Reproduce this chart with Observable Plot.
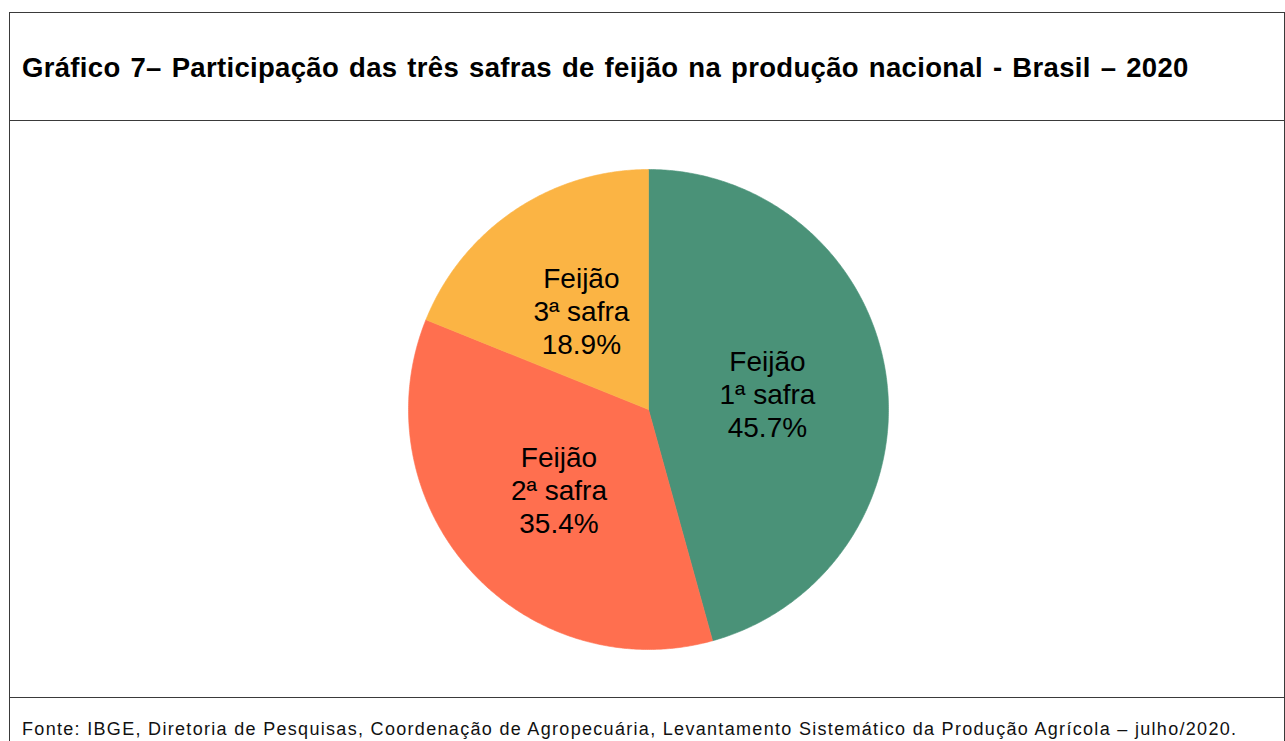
<!DOCTYPE html>
<html>
<head>
<meta charset="utf-8">
<script src="https://cdn.jsdelivr.net/npm/d3@7"></script>
<script src="https://cdn.jsdelivr.net/npm/@observablehq/plot@0.6"></script>
<style>
  html, body { margin: 0; padding: 0; background: #fff; overflow: hidden; }
  body { width: 1285px; height: 741px; position: relative; font-family: "Liberation Sans", Arial, sans-serif; }
  #box { position: absolute; left: 9px; top: 12px; width: 1274px; height: 800px; border: 1px solid #3a3a3a; border-bottom: none; }
  #title { border-bottom: 1px solid #3a3a3a; display: flex; align-items: center; padding-left: 12px; font-weight: bold; font-size: 27.5px; letter-spacing: 0.32px; word-spacing: 2px; color: #000; box-sizing: border-box; height: 108px; padding-top: 2px; white-space: nowrap; }
  #chart { height: 577px; border-bottom: 1px solid #3a3a3a; box-sizing: border-box; }
  #chart svg { display: block; }
  #footer { padding-left: 12px; padding-top: 20px; font-size: 18px; letter-spacing: 1.31px; line-height: 22px; color: #111; white-space: nowrap; }
</style>
</head>
<body>
<div id="box">
  <div id="title">Gráfico 7– Participação das três safras de feijão na produção nacional - Brasil – 2020</div>
  <div id="chart"></div>
  <div id="footer">Fonte: IBGE, Diretoria de Pesquisas, Coordenação de Agropecuária, Levantamento Sistemático da Produção Agrícola – julho/2020.</div>
</div>
<script>
const categories = ["Feijão", "Feijão", "Feijão"];
const safras = ["1ª safra", "2ª safra", "3ª safra"];
const values = [45.7, 35.4, 18.9];
const colors = ["#4A9278", "#FF6F4F", "#FBB444"];

const W = 1274, H = 576, R = 240, cx = 638, cy = 288;

const arcs = d3.pie().sort(null).value(d => d.value)(
  values.map((v, i) => ({ i, value: v, name: categories[i], safra: safras[i], color: colors[i] }))
);

const polyPoints = [];
arcs.forEach(a => {
  const n = Math.max(2, Math.ceil((a.endAngle - a.startAngle) / (Math.PI / 360)));
  polyPoints.push({ key: a.data.i, color: a.data.color, x: 0, y: 0 });
  for (let k = 0; k <= n; k++) {
    const t = a.startAngle + (a.endAngle - a.startAngle) * k / n;
    polyPoints.push({ key: a.data.i, color: a.data.color, x: Math.sin(t), y: Math.cos(t) });
  }
  polyPoints.push({ key: a.data.i, color: a.data.color, x: 0, y: 0 });
});

const labels = arcs.map(a => {
  const m = (a.startAngle + a.endAngle) / 2;
  return {
    x: 0.5 * Math.sin(m),
    y: 0.5 * Math.cos(m),
    text: `${a.data.name}\n${a.data.safra}\n${a.data.value.toFixed(1)}%`
  };
});

const chart = Plot.plot({
  width: W,
  height: H,
  margin: 0,
  x: { domain: [-cx / R, (W - cx) / R], axis: null },
  y: { domain: [-(H - cy) / R, cy / R], axis: null },
  style: { fontFamily: "'Liberation Sans', Arial, sans-serif", background: "white" },
  marks: [
    Plot.line(polyPoints, { x: "x", y: "y", z: "key", fill: "color", stroke: "color", strokeWidth: 0.6, curve: "linear" }),
    Plot.text(labels, { x: "x", y: "y", text: "text", fontSize: 28, lineHeight: 1.18, fill: "#000", textAnchor: "middle" })
  ]
});
document.getElementById("chart").appendChild(chart);
</script>
</body>
</html>
